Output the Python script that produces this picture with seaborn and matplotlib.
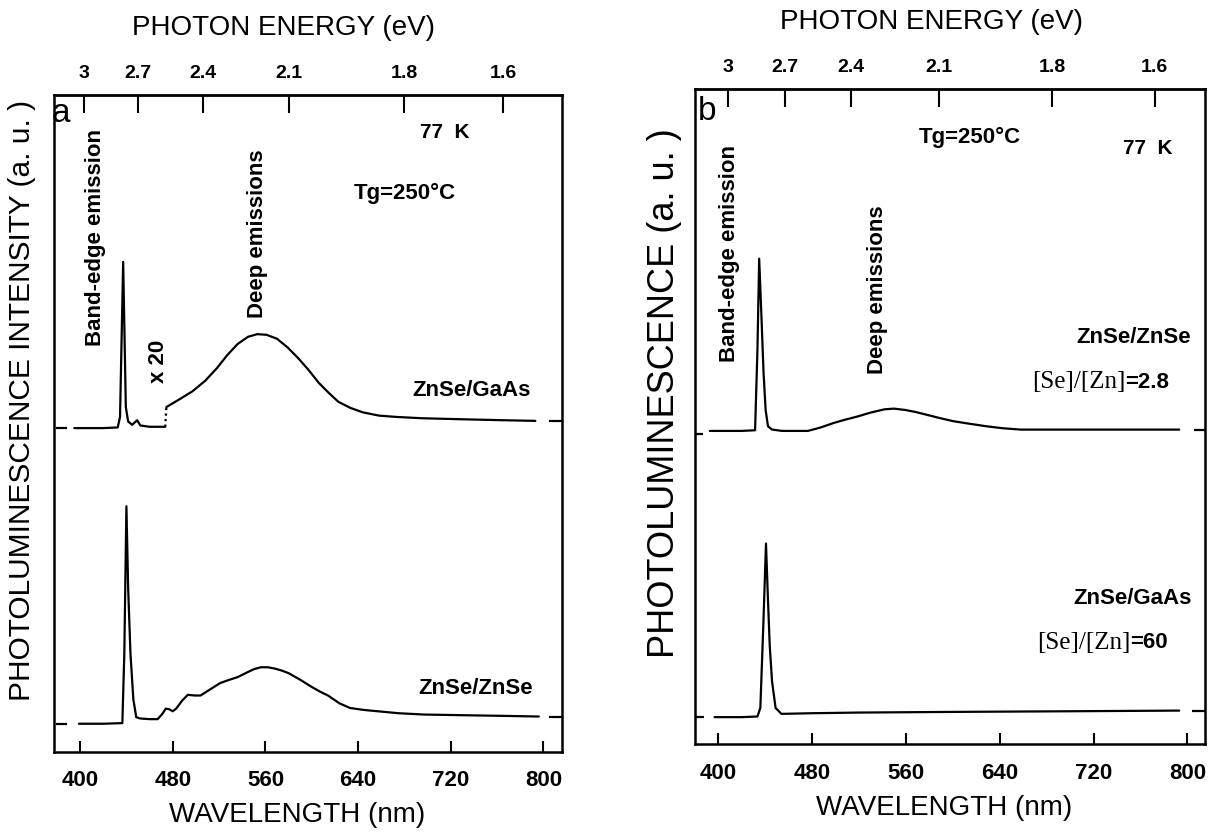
import matplotlib
matplotlib.use("Agg")
import matplotlib.pyplot as plt
import pandas as pd
import seaborn as sns

# ---------------- data ----------------
wavelength_ticks = [400, 480, 560, 640, 720, 800]
energy_labels = ["3", "2.7", "2.4", "2.1", "1.8", "1.6"]
energy_ticks_nm_a = [403.5, 450, 506, 580.5, 680, 765.5]
energy_ticks_nm_b = [408.5, 457, 513, 588, 685, 772]

# (a) ZnSe/GaAs, band-edge part (x1)
wl_a_gaas = [395, 420, 432.5, 434.5, 437.2, 439.5, 441.5, 445, 449.3, 452, 460, 473.5]
pl_a_gaas = [49.3, 49.3, 49.4, 51.0, 74.6, 52.5, 50.3, 49.8, 50.5, 49.7, 49.5, 49.5]
# (a) ZnSe/GaAs, deep-emission part (x20)
wl_a_gaas_x20 = [474.5, 485, 497, 508, 518, 527, 536, 545, 553, 561, 570, 579, 588,
                 597, 606, 615, 623, 633, 644, 658, 673, 695, 717, 740, 765, 793]
pl_a_gaas_x20 = [52.5, 53.6, 54.9, 56.5, 58.4, 60.4, 62.1, 63.2, 63.6, 63.5, 62.9, 61.6, 60.0,
                 58.2, 56.2, 54.6, 53.3, 52.4, 51.7, 51.2, 51.0, 50.8, 50.7, 50.6, 50.5, 50.4]
# (a) ZnSe/ZnSe
wl_a_znse = [399, 420, 436.5, 438.2, 440, 441.5, 443.5, 446, 448.5, 452, 460, 467, 471, 474,
             477, 480, 483, 488, 493, 499, 504, 512, 521, 529, 536, 544, 550, 556, 562, 568,
             574, 580, 590, 600, 607, 614, 624, 633, 645, 657, 675, 697, 730, 765, 796]
pl_a_znse = [4.3, 4.3, 4.4, 15, 37.4, 25, 15, 8, 5.3, 5.1, 5.0, 5.0, 5.8, 6.6,
             6.5, 6.2, 6.6, 7.8, 8.7, 8.6, 8.6, 9.5, 10.5, 11.0, 11.4, 12.1, 12.6, 12.9, 12.9, 12.7,
             12.4, 12.0, 11.0, 9.9, 9.2, 8.6, 7.4, 6.7, 6.4, 6.2, 5.9, 5.7, 5.6, 5.5, 5.4]

# (b) ZnSe/ZnSe, [Se]/[Zn]=2.8
wl_b_znse = [393, 420, 431.5, 433.5, 435, 437, 438.7, 440.5, 442.5, 446, 454.7, 466, 476.5,
             487, 498.3, 508, 518.8, 530, 541.9, 550, 559.4, 568, 577, 588, 600, 614, 629,
             643, 658, 700, 750, 793]
pl_b_znse = [47.8, 47.8, 47.9, 60, 74.1, 65, 56.8, 51, 48.5, 48.0, 47.8, 47.8, 47.8,
             48.3, 49.0, 49.5, 50.0, 50.6, 51.1, 51.2, 51.0, 50.7, 50.3, 49.8, 49.3, 48.9, 48.5,
             48.2, 48.0, 48.0, 48.0, 48.0]
# (b) ZnSe/GaAs, [Se]/[Zn]=60
wl_b_gaas = [397, 420, 433.5, 436, 438.5, 440.8, 442.5, 444, 446, 449, 454, 480, 520, 600, 700, 793]
pl_b_gaas = [4.1, 4.1, 4.2, 5.5, 18, 30.6, 22, 15, 9.5, 5.5, 4.6, 4.7, 4.8, 4.9, 5.0, 5.1]

# ---------------- figure ----------------
sns.set_theme(style="white")
plt.rcParams["font.family"] = ["Liberation Sans", "DejaVu Sans"]

W, H = 1217, 836
fig = plt.figure(figsize=(W / 100, H / 100), dpi=100)


def px_axes(left, right, top, bottom):
    return fig.add_axes([left / W, 1 - bottom / H, (right - left) / W, (bottom - top) / H])


def ftext(x, y, s, **kw):
    kw.setdefault("ha", "center")
    kw.setdefault("va", "center")
    kw.setdefault("color", "black")
    return fig.text(x / W, 1 - y / H, s, **kw)


ax_a = px_axes(54, 562, 95, 752)
ax_b = px_axes(695, 1205, 89, 744)


def style_axes(ax, xlim, energy_ticks, bottom_pad):
    ax.set_xlim(*xlim)
    ax.set_ylim(0, 100)
    ax.set_yticks([])
    ax.set_xticks(wavelength_ticks)
    ax.set_xticklabels([str(t) for t in wavelength_ticks], fontsize=16, fontweight="bold")
    ax.tick_params(axis="x", bottom=True, direction="in", length=8, width=1.5,
                   pad=bottom_pad, colors="black")
    ax.set_xlabel("")
    ax.set_ylabel("")
    for sp in ax.spines.values():
        sp.set_linewidth(1.8)
        sp.set_color("black")
    sec = ax.secondary_xaxis("top")
    sec.set_xticks(energy_ticks)
    sec.set_xticklabels(energy_labels, fontsize=14, fontweight="bold")
    sec.tick_params(axis="x", top=True, direction="in", length=13, width=1.5,
                    pad=9, colors="black")
    sec.spines["top"].set_linewidth(1.8)


def curve(ax, x, y):
    df = pd.DataFrame({"wavelength": x, "intensity": y})
    sns.lineplot(data=df, x="wavelength", y="intensity", ax=ax, color="black",
                 linewidth=1.6, estimator=None)


def baseline_marks(ax, y_left, y_right, left=(379.5, 388.5), right=(804.5, 818)):
    ax.plot(left, [y_left, y_left], color="black", lw=1.6, solid_capstyle="butt")
    ax.plot(right, [y_right, y_right], color="black", lw=1.6, solid_capstyle="butt")


# ---- panel (a) ----
curve(ax_a, wl_a_gaas, pl_a_gaas)
curve(ax_a, wl_a_gaas_x20, pl_a_gaas_x20)
ax_a.plot([wl_a_gaas[-1], wl_a_gaas_x20[0]], [pl_a_gaas[-1], pl_a_gaas_x20[0]],
          color="black", lw=1.6, linestyle=(0, (1, 1.5)))
curve(ax_a, wl_a_znse, pl_a_znse)
baseline_marks(ax_a, pl_a_gaas[0], pl_a_gaas_x20[-1])
baseline_marks(ax_a, pl_a_znse[0], pl_a_znse[-1])
style_axes(ax_a, (377.5, 816), energy_ticks_nm_a, bottom_pad=13)

# ---- panel (b) ----
curve(ax_b, wl_b_znse, pl_b_znse)
curve(ax_b, wl_b_gaas, pl_b_gaas)
baseline_marks(ax_b, pl_b_znse[0] - 0.4, pl_b_znse[-1], left=(380, 387), right=(806, 818))
baseline_marks(ax_b, pl_b_gaas[0], pl_b_gaas[-1], left=(380, 388), right=(804, 818))
style_axes(ax_b, (380.3, 815), energy_ticks_nm_b, bottom_pad=14)

# ---- axis titles ----
ftext(284, 28, "PHOTON ENERGY (eV)", fontsize=20)
ftext(931, 22, "PHOTON ENERGY (eV)", fontsize=20)
ftext(297, 815, "WAVELENGTH (nm)", fontsize=20)
ftext(944, 808, "WAVELENGTH (nm)", fontsize=20)
ftext(22, 400, "PHOTOLUMINESCENCE INTENSITY (a. u. )", fontsize=21.5, rotation=90)
ftext(664, 393, "PHOTOLUMINESCENCE (a. u. )", fontsize=26, rotation=90)

# ---- annotations, panel (a) ----
ftext(61, 113, "a", fontsize=24)
ftext(445, 132, "77  K", fontsize=15, fontweight="bold")
ftext(405, 193, "Tg=250°C", fontsize=16, fontweight="bold")
ftext(96, 237, "Band-edge emission", fontsize=16, fontweight="bold", rotation=90)
ftext(159, 361, "x 20", fontsize=16, fontweight="bold", rotation=90)
ftext(258, 234, "Deep emissions", fontsize=16, fontweight="bold", rotation=90)
ftext(472, 391, "ZnSe/GaAs", fontsize=16, fontweight="bold")
ftext(476, 688, "ZnSe/ZnSe", fontsize=16, fontweight="bold")

# ---- annotations, panel (b) ----
ftext(707, 111, "b", fontsize=24)
ftext(970, 137, "Tg=250°C", fontsize=16, fontweight="bold")
ftext(1148, 148, "77  K", fontsize=15, fontweight="bold")
ftext(729, 254, "Band-edge emission", fontsize=16, fontweight="bold", rotation=90)
ftext(877, 290, "Deep emissions", fontsize=16, fontweight="bold", rotation=90)
ftext(1134, 338, "ZnSe/ZnSe", fontsize=16, fontweight="bold")
ftext(1133, 599, "ZnSe/GaAs", fontsize=16, fontweight="bold")


def ratio_label(x_left, y, value):
    t = ftext(x_left, y, "[Se]/[Zn]", fontsize=18, family="Liberation Serif", ha="left")
    fig.canvas.draw()
    ax_b.annotate("=" + value, xy=(1, 0.5), xycoords=t, va="center", ha="left",
                  fontsize=16, fontweight="bold", color="black")


ratio_label(1032, 382, "2.8")
ratio_label(1037, 643, "60")

fig.savefig("out.png", dpi=100)
